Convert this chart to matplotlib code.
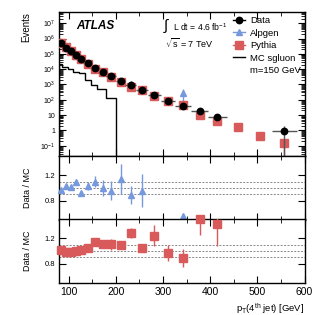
import numpy as np
import matplotlib
matplotlib.use("Agg")
import matplotlib.pyplot as plt
from matplotlib.lines import Line2D
from matplotlib.ticker import FixedLocator, LogLocator, FuncFormatter, MultipleLocator, NullFormatter, NullLocator

plt.rcParams['font.family'] = ['Liberation Sans', 'DejaVu Sans']
plt.rcParams['mathtext.fontset'] = 'custom'
plt.rcParams['mathtext.rm'] = 'Liberation Sans'
plt.rcParams['mathtext.it'] = 'Liberation Sans:italic'

# ---------------- data ----------------
bin_edges = [80, 89, 99, 109, 121, 133, 148, 164, 180, 200, 220, 243, 268, 295,
             325, 360, 395, 436, 480, 530, 583]
nan = np.nan
data_counts = [4.9e5, 2.6e5, 1.5e5, 8.5e4, 4.4e4, 2.4e4, 1.2e4, 6.9e3, 3.5e3, 1.7e3,
               890, 440, 205, 83, 39, 19.5, 7.5, nan, nan, 0.95]
data_err = [700, 500, 390, 290, 210, 155, 110, 83, 59, 41,
            30, 21, 14, 9, 6, 4.4, 2.7, nan, nan, 1.0]
pythia_counts = [4.8e5, 2.65e5, 1.52e5, 8.5e4, 4.35e4, 2.3e4, 1.05e4, 6.3e3, 3.2e3, 1.55e3,
                 660, 420, 165, 86, 48, 9.7, 4.3, 1.6, 0.43, 0.14]
pythia_err = [0, 0, 0, 0, 0, 0, 0, 0, 0, 0,
              0, 0, 0, 0, 0, 0, 0, 0, 0.12, 0.139]
alpgen_counts = [5.0e5, 2.5e5, 1.45e5, 7.8e4, 4.7e4, 2.3e4, 1.1e4, 6.9e3, 3.6e3, 1.5e3,
                 1.1e3, 460, nan, nan, 265, nan, nan, nan, nan, nan]
alpgen_err = [0, 0, 0, 0, 0, 0, 0, 0, 0, 0,
              450, 150, nan, nan, 230, nan, nan, nan, nan, nan]

sgluon_edges = [80, 86, 98, 110, 122, 134, 147, 161, 180, 200]
sgluon_counts = [2.1e4, 1.45e4, 1.0e4, 6.9e3, 5.4e3, 1.95e3, 930, 490, 125]

ratio_alpgen = [0.973, 1.027, 1.02, 1.095, 0.925, 1.027, 1.1, 1.0, 0.957, 1.14,
                0.89, 0.957, nan, nan, 0.56]
ratio_alpgen_err = [0.015, 0.02, 0.02, 0.03, 0.03, 0.06, 0.087, 0.127, 0.15, 0.23,
                    0.145, 0.26, nan, nan, 0.0]
ratio_pythia = [1.02, 0.984, 0.989, 1.0, 1.013, 1.043, 1.14, 1.103, 1.106, 1.087,
                1.28, 1.043, 1.24, 0.97, 0.89, 1.5, 1.42]
ratio_pythia_err = [0.01, 0.01, 0.01, 0.015, 0.02, 0.03, 0.04, 0.056, 0.085, 0.05,
                    0.074, 0.05, 0.167, 0.12, 0.146, 0.25, 0.34]

BLUE = '#7599dc'
RED = '#d95a5a'

edges = np.array(bin_edges, dtype=float)
centers = 0.5 * (edges[1:] + edges[:-1])
halfw = 0.5 * (edges[1:] - edges[:-1])

fig = plt.figure(figsize=(3.31, 3.15), dpi=100)
L, W = 0.179, 0.741
ax1 = fig.add_axes([L, 0.5048, W, 0.456])
ax2 = fig.add_axes([L, 0.3016, W, 0.2032], sharex=ax1)
ax3 = fig.add_axes([L, 0.1016, W, 0.2032], sharex=ax1)

# ---------------- top panel ----------------
ax1.set_yscale('log')
ax1.stairs(sgluon_counts, sgluon_edges, baseline=1e-4, color='black', lw=1.0, zorder=2)

ax1.errorbar(centers, alpgen_counts, yerr=alpgen_err, fmt='^', color=BLUE, ms=5,
             elinewidth=1.0, capsize=0, zorder=3)
ax1.errorbar(centers, pythia_counts, yerr=pythia_err, fmt='s', color=RED, ms=5.5,
             elinewidth=1.0, capsize=0, zorder=4)
ax1.errorbar(centers, data_counts, xerr=halfw, yerr=data_err, fmt='o', color='black',
             ecolor='#555555', ms=4.6, elinewidth=1.0, capsize=0, zorder=5)

ax1.set_ylim(0.021, 5.2e7)
ax1.set_xlim(80, 600)

def logfmt(v, pos):
    e = int(round(np.log10(v)))
    if e == 0:
        return '1'
    if e == 1:
        return '10'
    return r'$10^{%d}$' % e

ax1.yaxis.set_major_locator(FixedLocator([1e-1, 1, 10, 1e2, 1e3, 1e4, 1e5, 1e6, 1e7]))
ax1.yaxis.set_major_formatter(FuncFormatter(logfmt))
ax1.yaxis.set_minor_locator(LogLocator(base=10, subs=np.arange(2, 10), numticks=30))
ax1.yaxis.set_minor_formatter(NullFormatter())
ax1.set_ylabel('Events', fontsize=7, loc='top', labelpad=6)

for ax in (ax1, ax2, ax3):
    ax.xaxis.set_major_locator(MultipleLocator(100))
    ax.xaxis.set_minor_locator(MultipleLocator(50))
    ax.tick_params(which='both', direction='in', top=True, right=True)
    ax.tick_params(which='major', length=5, width=0.8)
    ax.tick_params(which='minor', length=3, width=0.6)
    for s in ax.spines.values():
        s.set_linewidth(1.0)

ax1.tick_params(axis='y', which='major', labelsize=5, pad=3)
ax1.tick_params(axis='x', labelbottom=False)
ax2.tick_params(axis='x', labelbottom=False)

# texts
ax1.text(0.07, 0.905, 'ATLAS', transform=ax1.transAxes, fontsize=8.5,
         fontweight='bold', fontstyle='italic', va='center', ha='left')
fig.text(163 / 331, 1 - 26 / 315, r'$\int$', fontsize=11, va='center', ha='left')
fig.text(173 / 331, 1 - 27.5 / 315, r'L dt = 4.6 fb$^{-1}$', fontsize=6.2, va='center', ha='left')
fig.text(165 / 331, 1 - 43 / 315, r'$\sqrt{\mathrm{s}}$ = 7 TeV', fontsize=6.5, va='center', ha='left')

handles = [
    Line2D([], [], color='black', marker='o', ms=4.6, lw=1.0),
    Line2D([], [], color=BLUE, marker='^', ms=5, lw=1.0),
    Line2D([], [], color=RED, marker='s', ms=5.5, lw=1.0),
    Line2D([], [], color='black', lw=1.0),
    Line2D([], [], color='none', lw=0),
]
labels = ['Data', 'Alpgen', 'Pythia', 'MC sgluon', 'm=150 GeV']
ax1.legend(handles, labels, loc='upper left', bbox_to_anchor=(233 / 331, 1 - 16 / 315),
           bbox_transform=fig.transFigure, frameon=False, fontsize=6.8,
           handlelength=1.3, handletextpad=0.5, labelspacing=0.38, borderpad=0,
           borderaxespad=0)

# ---------------- ratio panels ----------------
def ratio_panel(ax, vals, errs, color, marker, ms):
    m = len(vals)
    x = centers[:m]
    ax.errorbar(x, vals, yerr=errs, fmt='none', ecolor=color, elinewidth=1.0,
                capsize=0, zorder=3)
    ax.plot(x, vals, ls='none', marker=marker, color=color, ms=ms, clip_on=False, zorder=4)
    for yv in (0.9, 1.0, 1.1):
        ax.axhline(yv, color='#888888', lw=0.7, ls=(0, (2, 1.5)), zorder=1)
    ax.set_ylim(0.5, 1.5)
    ax.yaxis.set_major_locator(FixedLocator([0.8, 1.2]))
    ax.yaxis.set_minor_locator(NullLocator())
    ax.tick_params(axis='y', labelsize=5.5, pad=3)
    ax.set_ylabel('Data / MC', fontsize=6.5, labelpad=9)

ratio_panel(ax2, ratio_alpgen, ratio_alpgen_err, BLUE, '^', 5)
ratio_panel(ax3, ratio_pythia, ratio_pythia_err, RED, 's', 5.5)

ax3.tick_params(axis='x', labelsize=7.5, pad=3)
ax3.set_xlabel(r'p$_{\mathrm{T}}$(4$^{\mathrm{th}}$ jet) [GeV]', fontsize=6.8, loc='right', labelpad=3)

fig.savefig('out.png', dpi=100)
